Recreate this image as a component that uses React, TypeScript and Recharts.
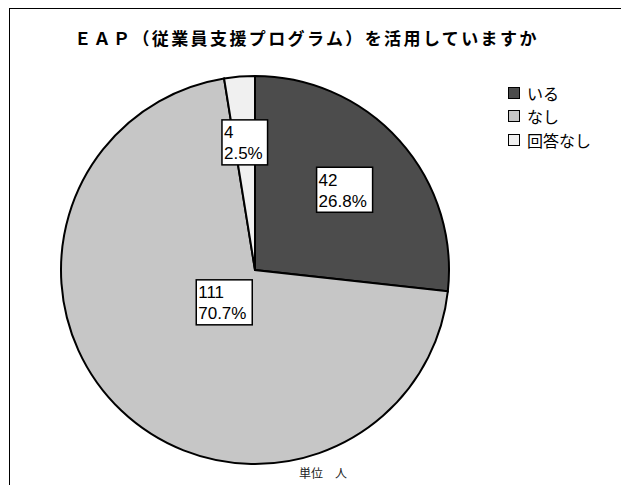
import React from "react";
import { PieChart, Pie, Cell, Legend } from "recharts";

const categories = ["いる", "なし", "回答なし"];
const values = [42, 111, 4];
const title = "ＥＡＰ（従業員支援プログラム）を活用していますか";
const footnote = "単位　人";

const COLORS = ["#4c4c4c", "#c6c6c6", "#f0f0f0"];
const LABEL_RADIUS = [0.62, 0.23, 0.66];

const data = categories.map((name, i) => ({ name, value: values[i] }));

const RAD = Math.PI / 180;

const renderLabel = (props: any) => {
  const { cx, cy, midAngle, outerRadius, value, percent, index } = props;
  const r = outerRadius * LABEL_RADIUS[index];
  const x = cx + r * Math.cos(-midAngle * RAD);
  const y = cy + r * Math.sin(-midAngle * RAD);
  const line1 = String(value);
  const line2 = (percent * 100).toFixed(1) + "%";
  const w = Math.max(line1.length, line2.length) * 10.4 + 4;
  const h = 45;
  return (
    <g>
      <rect x={x - w / 2} y={y - h / 2} width={w} height={h} fill="#fff" stroke="#000" strokeWidth={1.5} />
      <text x={x - w / 2 + 2} y={y - 4} fontSize={17} fontFamily="'Liberation Sans', Arial, sans-serif" fill="#000">
        {line1}
      </text>
      <text x={x - w / 2 + 2} y={y + 17} fontSize={17} fontFamily="'Liberation Sans', Arial, sans-serif" fill="#000">
        {line2}
      </text>
    </g>
  );
};

const renderLegend = () => (
  <div style={{ fontFamily: "'Noto Sans CJK JP', sans-serif", fontSize: 16, color: "#000" }}>
    {categories.map((c, i) => (
      <div key={c} style={{ display: "flex", alignItems: "center", height: 23.5 }}>
        <span
          style={{
            display: "inline-block",
            width: 10,
            height: 10,
            background: COLORS[i],
            border: "1.5px solid #000",
            marginRight: 7,
          }}
        />
        <span style={{ lineHeight: "16px" }}>{c}</span>
      </div>
    ))}
  </div>
);

export default function App() {
  return (
    <div style={{ position: "absolute", left: 0, top: 0, width: 621, height: 485, background: "#fff", overflow: "hidden" }}>
      <div
        style={{
          position: "absolute",
          left: 9,
          top: 8,
          width: 640,
          height: 520,
          borderLeft: "1.5px solid #000",
          borderTop: "1.5px solid #000",
        }}
      />
      <div
        style={{
          position: "absolute",
          left: -4,
          width: 621,
          top: 27,
          textAlign: "center",
          fontFamily: "'Noto Sans CJK JP', sans-serif",
          fontWeight: 700,
          fontSize: 17,
          letterSpacing: 2.4,
          lineHeight: "22px",
          color: "#000",
        }}
      >
        {title}
      </div>
      <div style={{ position: "absolute", left: 0, top: 0 }}>
        <PieChart width={621} height={485} margin={{ top: 0, right: 0, bottom: 0, left: 0 }}>
          <Pie
            data={data}
            dataKey="value"
            nameKey="name"
            cx={255}
            cy={270}
            outerRadius={194}
            startAngle={90}
            endAngle={-270}
            stroke="#000"
            strokeWidth={2}
            label={renderLabel}
            labelLine={false}
            isAnimationActive={false}
          >
            {data.map((d, i) => (
              <Cell key={d.name} fill={COLORS[i]} />
            ))}
          </Pie>
          <Legend
            layout="vertical"
            align="right"
            verticalAlign="top"
            content={renderLegend}
            wrapperStyle={{ position: "absolute", left: 508, top: 81, width: 110 }}
          />
        </PieChart>
      </div>
      <div
        style={{
          position: "absolute",
          left: 299,
          top: 466,
          fontFamily: "'Noto Sans CJK JP', sans-serif",
          fontSize: 12,
          lineHeight: "14px",
          color: "#222",
          whiteSpace: "pre",
        }}
      >
        {footnote}
      </div>
    </div>
  );
}
